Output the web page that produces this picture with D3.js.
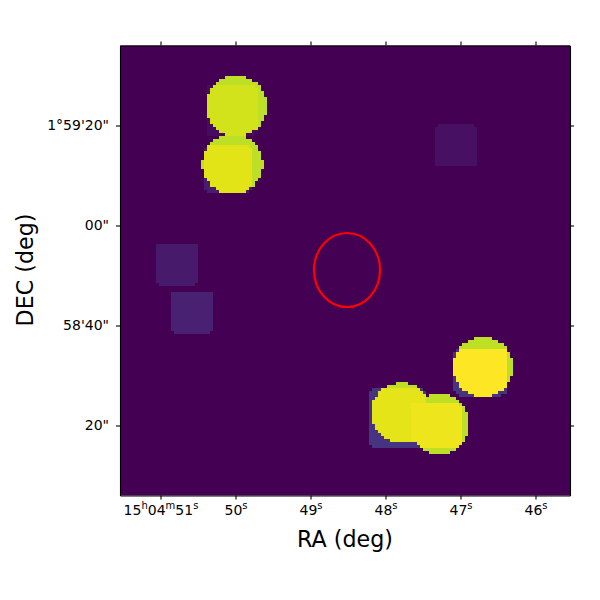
<!DOCTYPE html>
<html>
<head>
<meta charset="utf-8">
<style>
  html, body { margin: 0; padding: 0; background: #fff; }
  text { font-family: "DejaVu Sans", sans-serif; fill: #000; }
</style>
<script src="https://cdn.jsdelivr.net/npm/d3@7"></script>
</head>
<body>
<div id="chart"></div>
<script>
  // RA in seconds of 15h04m, DEC in arcsec above 1d58'00"
  const raTicks = [51, 50, 49, 48, 47, 46]
  const raTickLabels = ['15h04m51s', '50s', '49s', '48s', '47s', '46s']
  const decTicks = [80, 60, 40, 20]
  const decTickLabels = ['1°59\'20"', '00"', '58\'40"', '20"']

  // exposure tiles, sizes in arcsec
  const tileRa = [47.06, 50.78, 50.58, 50.09, 50.05, 46.73, 47.84, 47.33]
  const tileDec = [76.0, 52.4, 42.8, 71.4, 83.0, 30.9, 21.6, 20.1]
  const tileWidth = [8.2, 8.2, 8.2, 9.6, 10, 10.6, 11.6, 10]
  const tileHeight = [8.2, 8.2, 8.2, 9.4, 10, 9.6, 11.8, 9]
  const tileCorner = [0.6, 0.6, 0.6, 1.2, 0.6, 1.2, 1.8, 0.6]
  // level on empty sky, and what the tile adds on top of a source
  const tileLevel = [0.04, 0.07, 0.09, 0.08, 0.03, 0.15, 0.15, 0.15]
  const tileCore = [0, 0, 0, 0.055, 0.03, 0.1, 0.06, 0.075]

  // bright sources
  const sourceRa = [49.987, 50.04, 46.70, 47.787, 47.287]
  const sourceDec = [84.0, 72.4, 31.8, 22.6, 20.4]
  const sourceRadius = [6.05, 6.05, 6.05, 6.05, 6.05]
  const sourceLevel = [0.9, 0.9, 0.9, 0.9, 0.9]

  const regionRa = 48.513
  const regionDec = 51.1
  const regionRadiusRa = 0.44
  const regionRadiusDec = 7.4

  const margin = { left: 120, top: 45.5, size: 450 }

  const x = d3.scaleLinear().domain([51.54, 45.54]).range([margin.left, margin.left + margin.size])
  const y = d3.scaleLinear().domain([96, 6]).range([margin.top, margin.top + margin.size])
  const color = d3.scaleSequential(d3.interpolateViridis).domain([0, 1]).clamp(true)

  const svg = d3.select('#chart').append('svg')
    .attr('width', 600)
    .attr('height', 600)

  svg.append('rect')
    .attr('x', x(51.54))
    .attr('y', y(96))
    .attr('width', margin.size)
    .attr('height', margin.size)
    .attr('fill', color(0))

  // one cell of the map is 3 screen pixels
  const nCells = 150
  const cellRa = 6 / nCells
  const cellDec = 90 / nCells

  const inTile = function (i, ra, dec) {
    const halfW = tileWidth[i] * 0.5
    const halfH = tileHeight[i] * 0.5
    const dx = Math.abs((ra - tileRa[i]) * 15)
    const dy = Math.abs(dec - tileDec[i])
    if (dx > halfW || dy > halfH) return false
    const cx = dx - (halfW - tileCorner[i])
    const cy = dy - (halfH - tileCorner[i])
    return !(cx > 0 && cy > 0 && cx * cx + cy * cy > tileCorner[i] * tileCorner[i])
  }

  const cellValue = function (ra, dec) {
    let source = 0
    sourceRa.forEach(function (r, i) {
      const dx = (ra - r) * 15
      const dy = dec - sourceDec[i]
      if (dx * dx + dy * dy <= sourceRadius[i] * sourceRadius[i]) {
        source = Math.max(source, sourceLevel[i])
      }
    })
    let sky = 0
    let core = 0
    tileRa.forEach(function (r, i) {
      if (inTile(i, ra, dec)) {
        sky = Math.max(sky, tileLevel[i])
        core = Math.max(core, tileCore[i])
      }
    })
    return source > 0 ? source + core : sky
  }

  const cells = []
  d3.range(nCells).forEach(function (col) {
    d3.range(nCells).forEach(function (row) {
      const ra = 51.54 - (col + 0.5) * cellRa
      const dec = 96 - (row + 0.5) * cellDec
      const value = cellValue(ra, dec)
      if (value > 0) cells.push({ ra: ra, dec: dec, value: value })
    })
  })

  svg.append('g')
    .attr('shape-rendering', 'crispEdges')
    .selectAll('rect')
    .data(cells)
    .enter()
    .append('rect')
    .attr('x', function (d) { return x(d.ra + cellRa / 2) })
    .attr('y', function (d) { return y(d.dec + cellDec / 2) })
    .attr('width', x(0) - x(cellRa))
    .attr('height', y(0) - y(cellDec))
    .attr('fill', function (d) { return color(d.value) })

  svg.append('ellipse')
    .attr('cx', x(regionRa))
    .attr('cy', y(regionDec))
    .attr('rx', x(0) - x(regionRadiusRa))
    .attr('ry', y(0) - y(regionRadiusDec))
    .attr('fill', 'none')
    .attr('stroke', '#ff0000')
    .attr('stroke-width', 2.2)

  const noLabel = function () { return '' }

  const styleAxis = function (g) {
    g.select('.domain').attr('stroke', '#000').attr('stroke-width', 1.1)
    g.selectAll('.tick line').attr('stroke', '#000').attr('stroke-width', 1.1)
    g.selectAll('.tick text').attr('fill', '#000').style('font-size', '14px')
      .style('font-family', '"DejaVu Sans", sans-serif')
  }

  // h m s units are set as superscripts
  const superscript = function (selection) {
    selection.each(function (d, i) {
      const text = d3.select(this).attr('y', 19.5).attr('dy', null)
      text.text(null)
      let raised = false
      raTickLabels[i].match(/\d+|[hms]/g).forEach(function (part) {
        const isUnit = /[hms]/.test(part)
        text.append('tspan')
          .attr('dy', isUnit ? -6 : (raised ? 6 : 0))
          .style('font-size', isUnit ? '10px' : '14px')
          .text(part)
        raised = isUnit
      })
    })
  }

  const bottom = svg.append('g')
    .attr('transform', 'translate(0,' + y(6) + ')')
    .call(d3.axisBottom(x).tickValues(raTicks).tickSize(4).tickSizeOuter(0).tickFormat(noLabel))
    .call(styleAxis)
  bottom.selectAll('.tick text').call(superscript)

  svg.append('g')
    .attr('transform', 'translate(0,' + y(96) + ')')
    .call(d3.axisTop(x).tickValues(raTicks).tickSize(4).tickSizeOuter(0).tickFormat(noLabel))
    .call(styleAxis)

  svg.append('g')
    .attr('transform', 'translate(' + x(51.54) + ',0)')
    .call(d3.axisLeft(y).tickValues(decTicks).tickSize(4).tickSizeOuter(0).tickPadding(7)
      .tickFormat(function (d, i) { return decTickLabels[i] }))
    .call(styleAxis)

  svg.append('g')
    .attr('transform', 'translate(' + x(45.54) + ',0)')
    .call(d3.axisRight(y).tickValues(decTicks).tickSize(4).tickSizeOuter(0).tickFormat(noLabel))
    .call(styleAxis)

  svg.append('text')
    .attr('x', 345)
    .attr('y', 547)
    .attr('text-anchor', 'middle')
    .style('font-size', '22.2px')
    .text('RA (deg)')

  svg.append('text')
    .attr('transform', 'translate(33,270) rotate(-90)')
    .attr('text-anchor', 'middle')
    .style('font-size', '22.2px')
    .text('DEC (deg)')
</script>
</body>
</html>
